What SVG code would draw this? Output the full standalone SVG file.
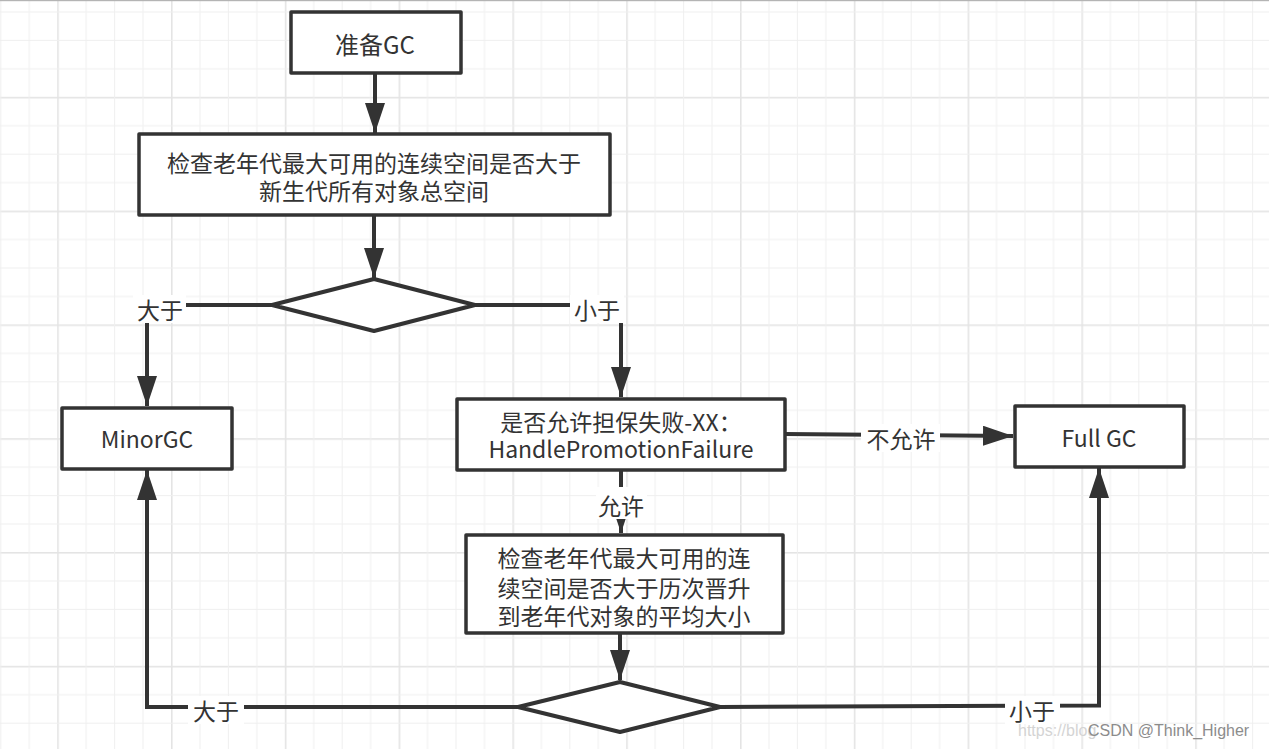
<svg xmlns="http://www.w3.org/2000/svg" width="1269" height="749" viewBox="0 0 1269 749">
<defs>
<pattern id="grid" patternUnits="userSpaceOnUse" x="57.2" y="96.8" width="113.8" height="113.8">
<rect x="0" y="0" width="1.6" height="113.8" fill="#e4e4e4"/>
<rect x="0" y="0" width="113.8" height="1.6" fill="#e4e4e4"/>
<rect x="28.45" y="0" width="1" height="113.8" fill="#efefef"/>
<rect x="56.9" y="0" width="1" height="113.8" fill="#efefef"/>
<rect x="85.35" y="0" width="1" height="113.8" fill="#efefef"/>
<rect x="0" y="28.45" width="113.8" height="1" fill="#efefef"/>
<rect x="0" y="56.9" width="113.8" height="1" fill="#efefef"/>
<rect x="0" y="85.35" width="113.8" height="1" fill="#efefef"/>
</pattern>
<marker id="arr" markerUnits="userSpaceOnUse" markerWidth="30" markerHeight="20" refX="30" refY="10" orient="auto" viewBox="0 0 30 20">
<path d="M0,0 L30,10 L0,20 Z" fill="#333"/>
</marker>
</defs>
<style>
.box{fill:#fff;stroke:#333;stroke-width:3.5;stroke-linejoin:round}
.dia{fill:#fff;stroke:#333;stroke-width:4;stroke-linejoin:round}
.con{fill:none;stroke:#333;stroke-width:4}
.t{font-family:"Noto Sans CJK SC","Noto Sans",sans-serif;fill:#333;text-anchor:middle;dominant-baseline:central}
.lbg{fill:#fff}
</style>
<rect width="1269" height="749" fill="#fff"/>
<rect width="1269" height="749" fill="url(#grid)"/>
<rect x="0" y="0" width="1269" height="1.2" fill="#b4b4b4"/>

<g id="connectors">
<path class="con" d="M375,73 V133" marker-end="url(#arr)"/>
<path class="con" d="M374,215 V278" marker-end="url(#arr)"/>
<path class="con" d="M272,305 H147 V406" marker-end="url(#arr)"/>
<path class="con" d="M475,305 H621 V397" marker-end="url(#arr)"/>
<path class="con" d="M621,470 V533" marker-end="url(#arr)"/>
<path class="con" d="M785,434 L1013,436" marker-end="url(#arr)"/>
<path class="con" d="M620,633 V680" marker-end="url(#arr)"/>
<path class="con" d="M518,707 H147 V470" marker-end="url(#arr)"/>
<path class="con" d="M720,707 L1099,705.5 V468" marker-end="url(#arr)"/>
<rect class="lbg" x="133" y="295" width="53" height="28"/>
<text class="t" x="160" y="309" font-size="23">大于</text>
<rect class="lbg" x="570" y="295" width="54" height="28"/>
<text class="t" x="597" y="309" font-size="23">小于</text>
<rect class="lbg" x="596" y="487" width="51" height="32"/>
<text class="t" x="621" y="505" font-size="23">允许</text>
<rect class="lbg" x="861" y="424" width="79" height="28"/>
<text class="t" x="901" y="438" font-size="23">不允许</text>
<rect class="lbg" x="188" y="696" width="56" height="28"/>
<text class="t" x="216" y="710" font-size="23">大于</text>
<rect class="lbg" x="1005" y="696" width="55" height="28"/>
<text class="t" x="1032" y="710" font-size="23">小于</text>
</g>

<g id="n1">
<rect class="box" x="291" y="12" width="170" height="61"/>
<text class="t" x="375" y="43" font-size="24">准备GC</text>
</g>
<g id="n2">
<rect class="box" x="139" y="134" width="471" height="81"/>
<text class="t" x="374" y="162" font-size="23">检查老年代最大可用的连续空间是否大于</text>
<text class="t" x="374" y="190" font-size="23">新生代所有对象总空间</text>
</g>
<g id="d1">
<polygon class="dia" points="374,279 475,305 374,331 272,305"/>
</g>
<g id="n3">
<rect class="box" x="62" y="408" width="170" height="61"/>
<text class="t" x="147" y="438" font-size="23">MinorGC</text>
</g>
<g id="n4">
<rect class="box" x="457" y="399" width="328" height="71"/>
<text class="t" x="621" y="421" font-size="23">是否允许担保失败-XX：</text>
<text class="t" x="621" y="448" font-size="23">HandlePromotionFailure</text>
</g>
<g id="n5">
<rect class="box" x="1015" y="406" width="169" height="61"/>
<text class="t" x="1099" y="437" font-size="23">Full GC</text>
</g>
<g id="n6">
<rect class="box" x="466" y="535" width="317" height="98"/>
<text class="t" x="624" y="557" font-size="23">检查老年代最大可用的连</text>
<text class="t" x="624" y="587" font-size="23">续空间是否大于历次晋升</text>
<text class="t" x="624" y="615" font-size="23">到老年代对象的平均大小</text>
</g>
<g id="d2">
<polygon class="dia" points="620,682 720,707 620,732 518,707"/>
</g>

<g id="watermark">
<text x="1018" y="736" font-family="Liberation Sans, sans-serif" font-size="16" fill="#d4d4d4">https://blog</text>
<text x="1088" y="736" font-family="Liberation Sans, sans-serif" font-size="16" fill="#8c8c8c">CSDN @Think_Higher</text>
</g>
</svg>
